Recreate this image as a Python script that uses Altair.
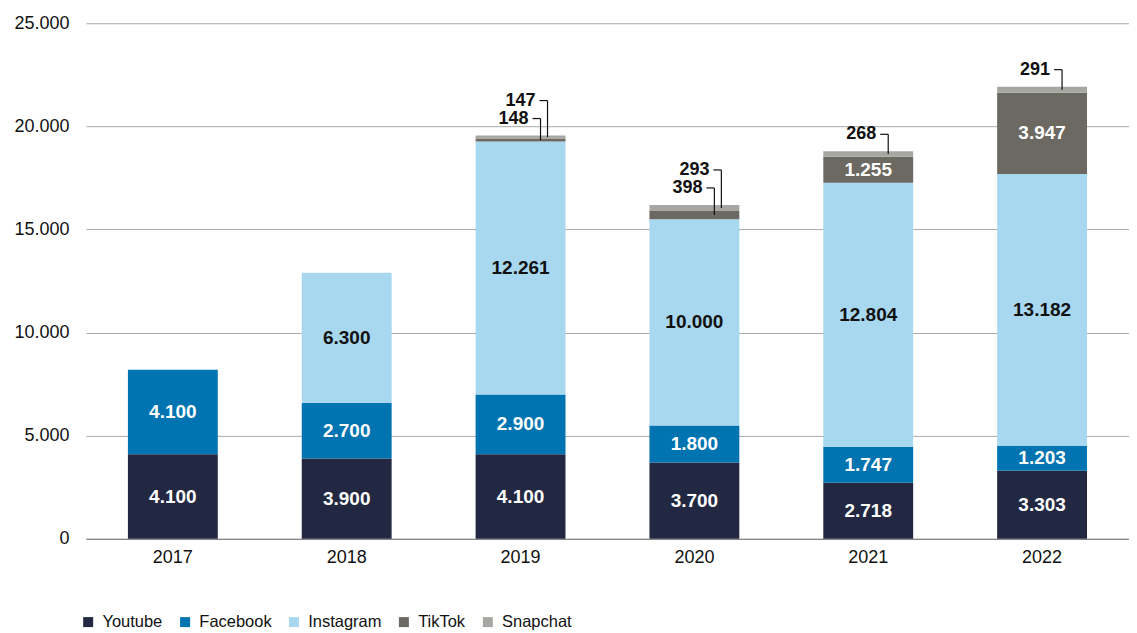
import altair as alt
import pandas as pd

years = ["2017", "2018", "2019", "2020", "2021", "2022"]
platforms = ["Youtube", "Facebook", "Instagram", "TikTok", "Snapchat"]
colors = ["#232842", "#0073b1", "#a8d8f0", "#6c6962", "#a6a6a2"]
youtube = [4100, 3900, 4100, 3700, 2718, 3303]
facebook = [4100, 2700, 2900, 1800, 1747, 1203]
instagram = [0, 6300, 12261, 10000, 12804, 13182]
tiktok = [0, 0, 148, 398, 1255, 3947]
snapchat = [0, 0, 147, 293, 268, 291]
y_ticks = [0, 5000, 10000, 15000, 20000, 25000]

series = dict(zip(platforms, [youtube, facebook, instagram, tiktok, snapchat]))
rows = []
for i, yr in enumerate(years):
    for k, p in enumerate(platforms):
        v = series[p][i]
        if v <= 0:
            continue
        small_tiktok = 0 < tiktok[i] < 1000
        level = 1 if (p == "Snapchat" and small_tiktok) else 0
        rows.append({"year": yr, "platform": p, "value": v, "order": k,
                     "label": f"{v:,}".replace(",", "."), "level": level})
df = pd.DataFrame(rows)

FONT = "Liberation Sans"
xenc = alt.X("year:N", sort=years, title=None,
             scale=alt.Scale(paddingInner=0.483, paddingOuter=0.2415),
             axis=alt.Axis(labelAngle=0, ticks=False, domainColor="#777777",
                           labelPadding=10, labelFontSize=18, labelColor="#111111",
                           grid=False))

base = alt.Chart(df)

bars = base.mark_bar().encode(
    x=xenc,
    y=alt.Y("value:Q", stack="zero", title=None,
            scale=alt.Scale(domain=[0, 25000], nice=False),
            axis=alt.Axis(values=y_ticks, ticks=False, domain=False,
                          gridColor="#aaaaaa", labelPadding=17, labelFontSize=18,
                          labelColor="#111111",
                          labelExpr="replace(format(datum.value, ','), ',', '.')")),
    color=alt.Color("platform:N", sort=platforms,
                    scale=alt.Scale(domain=platforms, range=colors),
                    legend=alt.Legend(title=None, orient="none", direction="horizontal",
                                      legendX=-6, legendY=591, symbolType="square",
                                      symbolSize=100, symbolStrokeWidth=0,
                                      columnPadding=14, labelFontSize=16.5,
                                      labelOffset=6, labelColor="#111111")),
    order=alt.Order("order:Q", sort="ascending"),
)

stacked = base.transform_stack(
    stack="value", groupby=["year"], as_=["y0", "y1"],
    sort=[alt.SortField("order", order="ascending")]
).transform_calculate(
    mid="(datum.y0 + datum.y1) / 2"
).transform_joinaggregate(
    total="sum(value)", groupby=["year"]
)

inside = stacked.transform_filter("datum.value >= 1000").mark_text(
    fontWeight="bold", fontSize=19, baseline="middle", align="center"
).encode(
    x=alt.X("year:N", sort=years),
    y=alt.Y("mid:Q"),
    text="label:N",
    color=alt.condition(alt.datum.platform == "Instagram",
                        alt.value("#111111"), alt.value("#ffffff")),
)

layers = [bars, inside]
for lvl, dy, tx, lx in [(0, -17, 8, 20), (1, -35, 15, 27)]:
    sel = stacked.transform_filter(f"datum.value < 1000 && datum.level == {lvl}")
    txt = sel.mark_text(fontWeight="bold", fontSize=18, align="right",
                        baseline="middle", xOffset=tx, yOffset=dy,
                        color="#111111").encode(
        x=alt.X("year:N", sort=years), y=alt.Y("total:Q"), text="label:N")
    vline = sel.mark_rule(color="#111111", strokeWidth=1.2, xOffset=lx,
                          y2Offset=dy).encode(
        x=alt.X("year:N", sort=years), y=alt.Y("mid:Q"), y2=alt.Y2("total:Q"))
    hline = sel.mark_rule(color="#111111", strokeWidth=1.2, xOffset=tx + 4,
                          x2Offset=lx, yOffset=dy, y2Offset=dy).encode(
        x=alt.X("year:N", sort=years), x2=alt.X2("year"),
        y=alt.Y("total:Q"))
    layers += [txt, vline, hline]

chart = alt.layer(*layers).properties(
    width=1044, height=516,
    padding={"left": 5, "top": 6, "right": 0, "bottom": 0},
).configure(font=FONT).configure_view(stroke=None)

chart.save("out.html", embed_options={"renderer": "svg", "actions": False})
